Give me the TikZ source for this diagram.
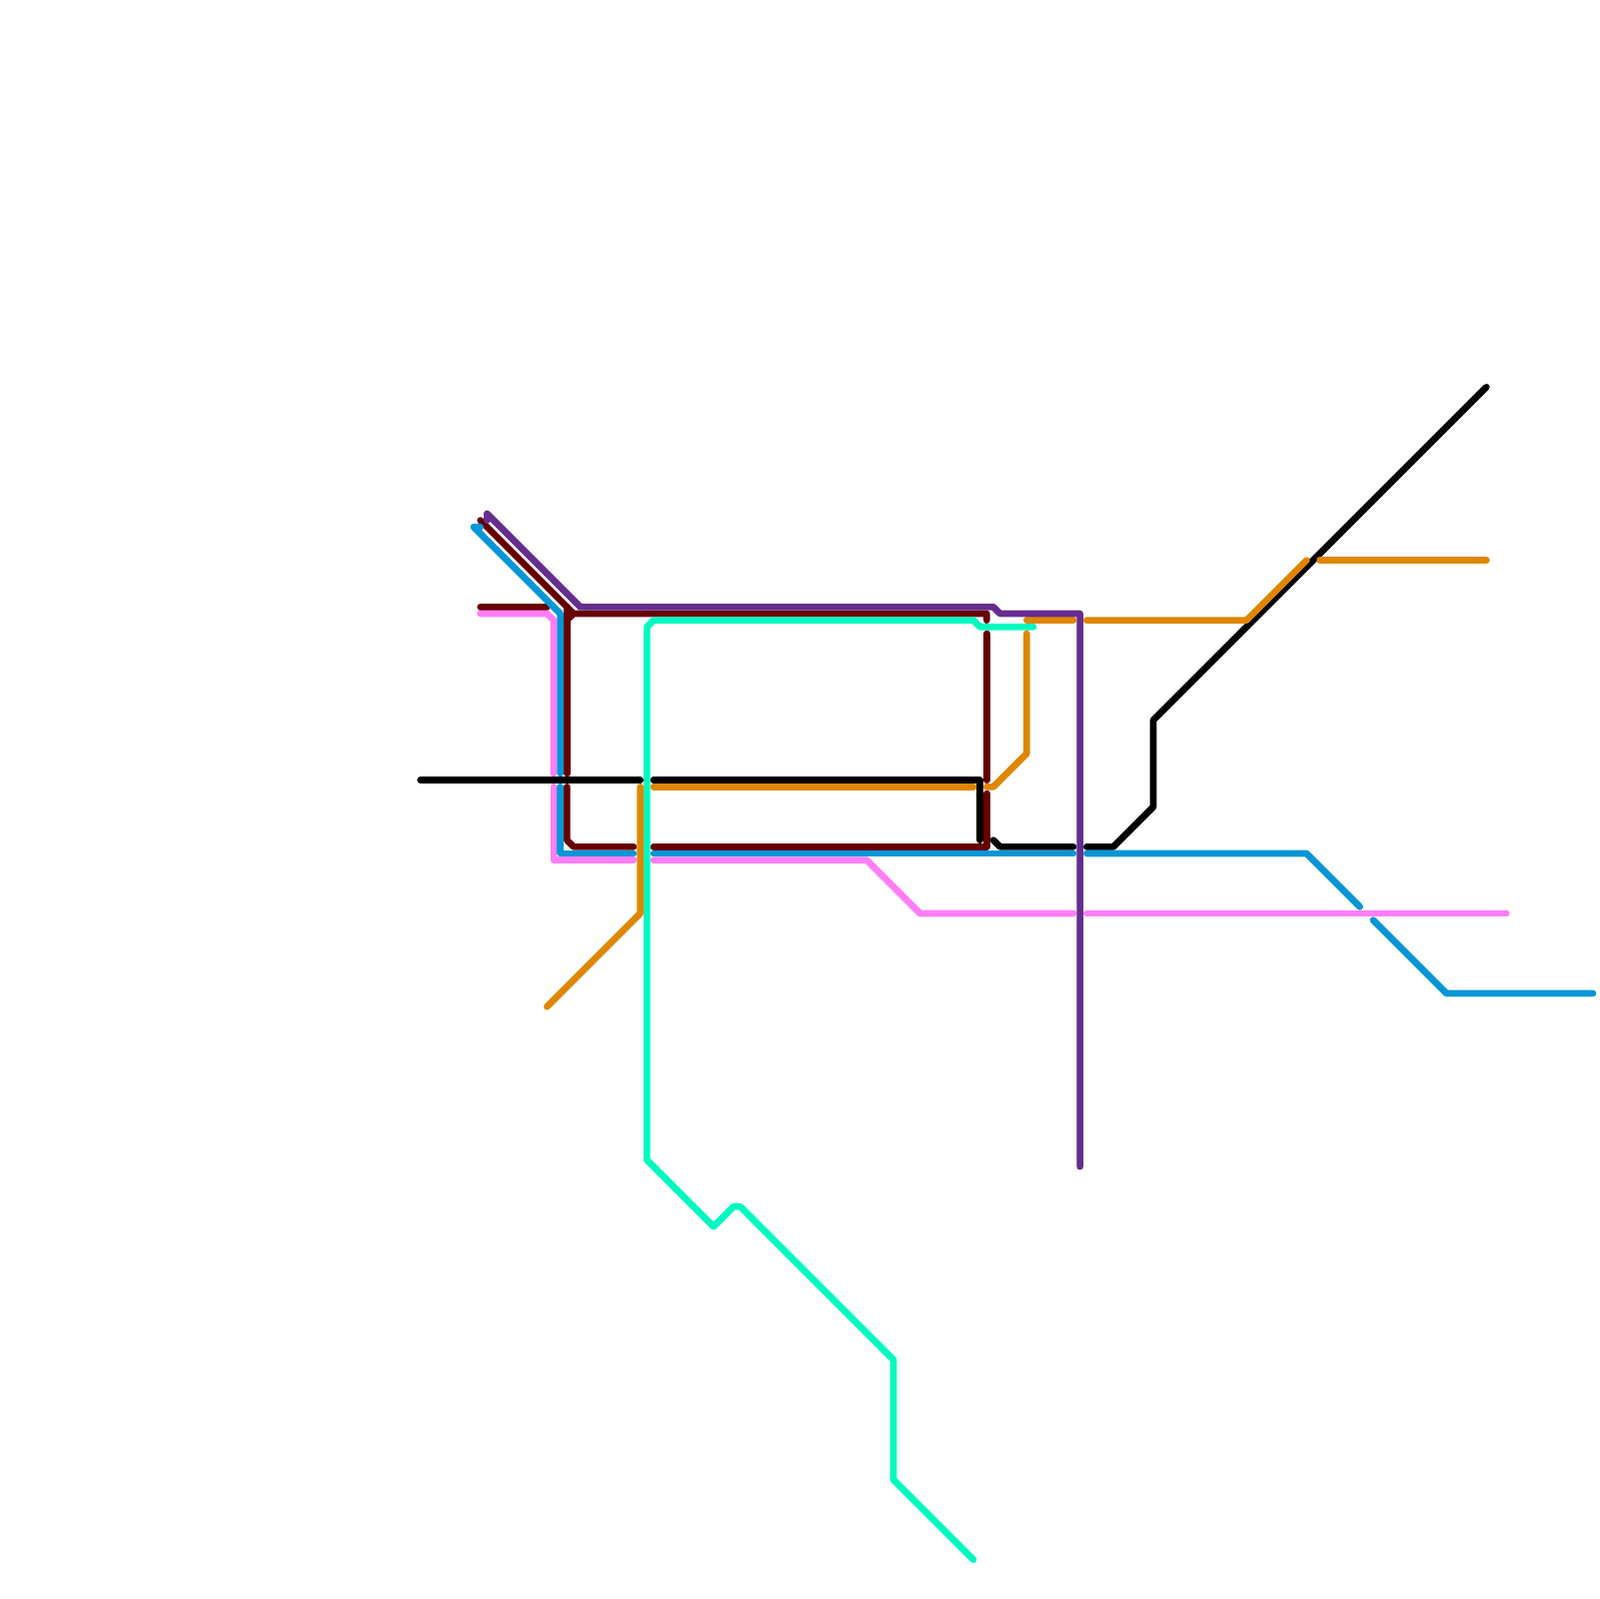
\documentclass[tikz,border=0pt]{standalone}
\usepackage{xcolor}
\definecolor{linemaroon}{RGB}{102, 0, 0}
\definecolor{linepink}{RGB}{255, 125, 248}
\definecolor{lineblue}{RGB}{8, 150, 215}
\definecolor{lineorange}{RGB}{223, 134, 0}
\definecolor{lineteal}{RGB}{0, 250, 192}
\definecolor{linepurple}{RGB}{102, 44, 144}
\usetikzlibrary{positioning}

\begin{document}
\begin{tikzpicture}[
			x=1mm, y=-1mm,
			rail/.style={line width=1mm, line cap=round, line join=round},
			maroon/.style={rail, linemaroon},
			pink/.style={rail, linepink},
			blue/.style={rail, lineblue},
			orange/.style={rail, lineorange},
			black/.style={rail, draw=black},
			teal/.style={rail, lineteal},
			purple/.style={rail, linepurple}]
			\useasboundingbox (-0.1,-0.1) rectangle (239.9,239.9);
			\draw[maroon] (72,91) -- (82,91);
			\draw[maroon] (72,78) -- (86,92) -- (148,92) -- (148,93);
			\draw[maroon] (85,91) -- (85,116);
			\draw[maroon] (85,93) -- (86,92);
			\draw[maroon] (85,118) -- (85,126) -- (86,127) -- (95,127);
			\draw[maroon] (98,127) -- (148,127) -- (148,119);
			\draw[maroon] (148,95) -- (148,117);
			\draw[pink] (72,92) -- (82,92) -- (83,93) -- (83,116);
			\draw[pink] (83,118) -- (83,129) -- (95,129);
			\draw[pink] (98,129) -- (130,129) -- (138,137) -- (161,137);
			\draw[pink] (163,137) -- (226,137);
			\draw[blue] (72,79) -- (71,79) -- (84,92) -- (84,116);
			\draw[blue] (84,118) -- (84,128) -- (95,128);
			\draw[blue] (98,128) -- (161,128);
			\draw[blue] (163,128) -- (196,128) -- (204,136);
			\draw[blue] (206,138) -- (217,149) -- (239,149);
			\draw[black] (63,117) -- (96,117);
			\draw[black] (98,117) -- (147,117) -- (147,126);
			\draw[black] (149,126) -- (150,127) -- (161,127);
			\draw[black] (163,127) -- (167,127) -- (173,121) -- (173,108) -- (223,58);
			\draw[orange] (96,118) -- (96,137) -- (82,151);
			\draw[orange] (98,118) -- (146,118);
			\draw[orange] (148,118) -- (149,118) -- (154,113) -- (154,95);
			\draw[orange] (154,93) -- (161,93);
			\draw[orange] (163,93) -- (187,93) -- (196,84);
			\draw[orange] (198,84) -- (223,84);
			\draw[teal] (155,94) -- (147,94) -- (146,93) -- (98,93) -- (97,94) -- (97,174) -- (107,184) -- (110,181) -- (111,181) -- (134,204) -- (134,222) -- (146,234);
			\draw[purple] (73,78) -- (73,77) -- (87,91) -- (149,91) -- (150,92) -- (162,92) -- (162,175);
		\end{tikzpicture}
\end{document}
